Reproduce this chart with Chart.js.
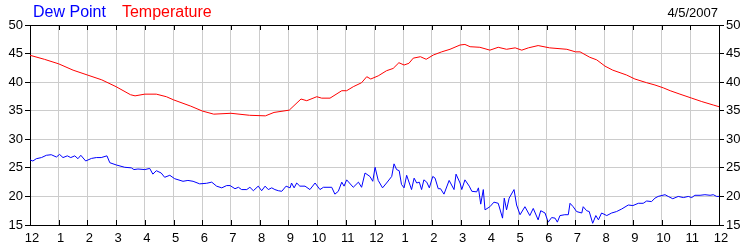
<!DOCTYPE html>
<html>
<head>
<meta charset="utf-8">
<script src="https://cdn.jsdelivr.net/npm/chart.js@4.4.1/dist/chart.umd.min.js"></script>
<style>
  body { margin: 0; background: #fff; }
  #wrap { position: relative; width: 750px; height: 250px; }
  .hdr { position: absolute; font-family: 'Liberation Sans', Arial, sans-serif; white-space: nowrap; }
</style>
</head>
<body>
<div id="wrap">
  <canvas id="myChart"></canvas>
  <div class="hdr" style="left:33px; top:4px; font-size:16px; line-height:16px;">
    <span style="color:#0000ff">Dew Point</span><span style="color:#ff0000; margin-left:16px">Temperature</span>
  </div>
  <div class="hdr" style="right:32px; top:6px; font-size:13px; line-height:13px; color:#000">4/5/2007</div>
</div>
<script>
const hourLabels = ['12', '1', '2', '3', '4', '5', '6', '7', '8', '9', '10', '11',
  '12', '1', '2', '3', '4', '5', '6', '7', '8', '9', '10', '11', '12'];

// hours since midnight, values in degrees F
const dewHours = [0, 0.1, 0.22, 0.4, 0.57, 0.74, 0.92, 1.03, 1.15, 1.3, 1.42, 1.56, 1.67, 1.77, 1.94,
  2.14, 2.31, 2.48, 2.68, 2.78, 3.01, 3.3, 3.53, 3.62, 3.76, 4.0, 4.17, 4.28, 4.4, 4.57, 4.69, 4.87,
  5.04, 5.33, 5.5, 5.68, 5.91, 6.15, 6.33, 6.5, 6.68, 6.85, 6.97, 7.14, 7.26, 7.37, 7.55, 7.66, 7.78,
  7.95, 8.07, 8.19, 8.3, 8.42, 8.53, 8.65, 8.77, 8.92, 9.06, 9.11, 9.2, 9.29, 9.4, 9.58, 9.75, 9.93,
  10.1, 10.22, 10.51, 10.62, 10.74, 10.86, 10.94, 11.03, 11.26, 11.44, 11.55, 11.67, 11.84, 11.94,
  12.02, 12.13, 12.28, 12.42, 12.6, 12.68, 12.77, 12.86, 12.94, 13.03, 13.12, 13.29, 13.38, 13.47,
  13.56, 13.64, 13.72, 13.82, 13.91, 14.03, 14.11, 14.22, 14.3, 14.42, 14.6, 14.77, 14.84, 14.98,
  15.04, 15.15, 15.3, 15.39, 15.56, 15.62, 15.7, 15.79, 15.85, 16.02, 16.16, 16.31, 16.46, 16.52,
  16.6, 16.69, 16.86, 16.95, 17.07, 17.24, 17.41, 17.53, 17.7, 17.79, 17.94, 18.05, 18.17, 18.29,
  18.37, 18.46, 18.63, 18.75, 18.81, 18.92, 19.04, 19.22, 19.27, 19.39, 19.48, 19.6, 19.71, 19.8,
  19.91, 20.09, 20.26, 20.43, 20.61, 20.84, 21.0, 21.19, 21.36, 21.48, 21.65, 21.77, 21.88, 22.12,
  22.23, 22.39, 22.58, 22.76, 22.93, 23.05, 23.16, 23.34, 23.51, 23.69, 23.8, 23.92, 24.0];
const dewValues = [26.4, 26.2, 26.6, 26.8, 27.2, 27.3, 26.9, 27.35, 26.8, 27.1, 26.8, 27.1, 26.6, 27.2, 26.2,
  26.65, 26.8, 26.8, 27.1, 25.9, 25.5, 25.1, 25.0, 24.7, 24.8, 24.7, 24.9, 23.9, 24.5, 24.1, 23.35, 23.7,
  23.1, 22.65, 22.8, 22.65, 22.2, 22.3, 22.5, 21.8, 21.5, 21.9, 21.9, 21.35, 21.6, 21.2, 21.2, 21.6, 21.0,
  21.8, 21.0, 21.8, 21.2, 21.5, 21.2, 21.0, 20.9, 21.8, 21.5, 22.35, 21.5, 22.35, 21.8, 21.8, 21.2, 22.35,
  21.2, 21.6, 21.6, 20.4, 20.9, 22.5, 21.8, 22.9, 21.6, 22.5, 21.6, 24.1, 23.5, 22.65,
  25.1, 22.8, 21.5, 22.35, 23.5, 25.7, 24.7, 24.5, 22.1, 21.5, 23.7, 21.2, 23.2, 22.35,
  22.5, 21.2, 22.9, 22.5, 21.5, 23.5, 23.2, 21.35, 21.35, 20.4, 22.8, 21.2, 23.9, 22.35,
  21.2, 22.9, 21.8, 20.9, 20.8, 21.5, 18.65, 21.2, 17.65, 18.2, 19.0, 18.8, 16.2, 19.7,
  17.65, 19.7, 21.2, 18.5, 16.8, 18.2, 16.65, 17.9, 15.9, 17.5, 17.1, 15.5, 16.3, 16.2,
  15.5, 16.65, 16.8, 16.8, 18.8, 18.2, 17.35, 17.1, 18.2, 17.5, 17.35, 15.3, 16.65, 15.9,
  17.1, 16.65, 17.1, 17.35, 17.8, 18.5, 18.4, 18.8, 18.8, 19.2, 19.1, 19.7, 20.0, 20.3,
  20.0, 19.6, 20.0, 19.8, 20.0, 19.8, 20.2, 20.2, 20.3, 20.2, 20.3, 20.0, 20.0];

const tempHours = [0, 0.5, 1, 1.5, 2, 2.5, 3, 3.5, 3.66, 4, 4.4, 4.75, 5, 5.6, 6, 6.4, 7, 7.65, 8.2,
  8.5, 9.03, 9.44, 9.64, 9.99, 10.16, 10.45, 10.86, 11.03, 11.26, 11.55, 11.73, 11.87, 12.13, 12.42,
  12.65, 12.85, 13.03, 13.2, 13.35, 13.6, 13.8, 14.05, 14.34, 14.63, 14.98, 15.15, 15.33, 15.67,
  16.02, 16.31, 16.6, 16.9, 17.13, 17.36, 17.7, 18.1, 18.7, 19.0, 19.16, 19.5, 19.74, 20.03, 20.3,
  20.78, 21.07, 21.48, 21.77, 22.06, 22.3, 22.64, 23.05, 23.4, 23.8, 24];
const tempValues = [44.7, 44.0, 43.2, 42.1, 41.25, 40.4, 39.2, 37.8, 37.6, 37.9, 37.9, 37.45, 36.9, 35.8, 34.95, 34.4, 34.55, 34.2, 34.1,
  34.7, 35.1, 37.05, 36.75, 37.45, 37.2, 37.2, 38.5, 38.5, 39.2, 39.9, 40.95, 40.55, 41.1, 42.0,
  42.4, 43.4, 43.0, 43.3, 44.2, 44.45, 44.0, 44.75, 45.3, 45.75, 46.5, 46.6, 46.2, 46.1,
  45.6, 46.1, 45.75, 46.0, 45.6, 46.0, 46.4, 46.0, 45.75, 45.3, 45.3, 44.35, 43.9, 42.8, 42.1,
  41.25, 40.55, 39.9, 39.5, 39.0, 38.5, 37.9, 37.2, 36.6, 36.0, 35.7];

const yMin = 15, yMax = 50, yStep = 5;

Chart.defaults.font.family = "'Liberation Sans', Arial, sans-serif";
Chart.defaults.font.size = 13;
Chart.defaults.color = '#000';

// frame top edge + short inward ticks on top and bottom
const frameTicks = {
  id: 'frameTicks',
  afterDraw(chart) {
    const { ctx, chartArea: a, scales: { x } } = chart;
    ctx.save();
    ctx.strokeStyle = '#000';
    ctx.lineWidth = 1;
    ctx.beginPath();
    ctx.moveTo(a.left, Math.round(a.top) + 0.5);
    ctx.lineTo(a.right, Math.round(a.top) + 0.5);
    x.ticks.forEach((t, i) => {
      const px = Math.round(x.getPixelForTick(i)) + 0.5;
      ctx.moveTo(px, a.top);
      ctx.lineTo(px, a.top + 5);
      ctx.moveTo(px, a.bottom);
      ctx.lineTo(px, a.bottom - 5);
    });
    ctx.stroke();
    ctx.restore();
  }
};

var ctx = document.getElementById('myChart').getContext('2d');
var chart = new Chart(ctx, {
  type: 'line',
  data: {
    datasets: [
      {
        label: 'Dew Point',
        data: dewHours.map((h, i) => ({ x: h, y: dewValues[i] })),
        borderColor: '#0000ff',
        borderWidth: 1,
        pointRadius: 0,
        tension: 0,
      },
      {
        label: 'Temperature',
        data: tempHours.map((h, i) => ({ x: h, y: tempValues[i] })),
        borderColor: '#ff0000',
        borderWidth: 1,
        pointRadius: 0,
        tension: 0,
      },
    ],
  },
  options: {
    responsive: true,
    maintainAspectRatio: false,
    animation: false,
    layout: { padding: { top: 25, left: 0, right: 0, bottom: 0 } },
    plugins: { legend: { display: false }, tooltip: { enabled: false } },
    scales: {
      x: {
        type: 'linear',
        min: 0,
        max: 24,
        afterFit: (s) => { s.height = 25; },
        afterBuildTicks: (s) => { s.ticks = hourLabels.map((l, i) => ({ value: i })); },
        ticks: {
          autoSkip: false,
          maxRotation: 0,
          padding: 6,
          labelOffset: 2,
          callback: (v, i) => hourLabels[i],
        },
        grid: { color: '#cccccc', drawTicks: false },
        border: { color: '#000', width: 1 },
      },
      y: {
        position: 'left',
        min: yMin,
        max: yMax,
        afterFit: (s) => { s.width = 30; },
        ticks: { stepSize: yStep, padding: 2 },
        grid: { color: '#cccccc', tickColor: '#000', tickLength: 5 },
        border: { color: '#000', width: 1 },
      },
      y2: {
        position: 'right',
        min: yMin,
        max: yMax,
        afterFit: (s) => { s.width = 31; },
        ticks: { stepSize: yStep, padding: 2 },
        grid: { drawOnChartArea: false, tickColor: '#000', tickLength: 5 },
        border: { color: '#000', width: 1 },
      },
    },
  },
  plugins: [frameTicks],
});
</script>
</body>
</html>
